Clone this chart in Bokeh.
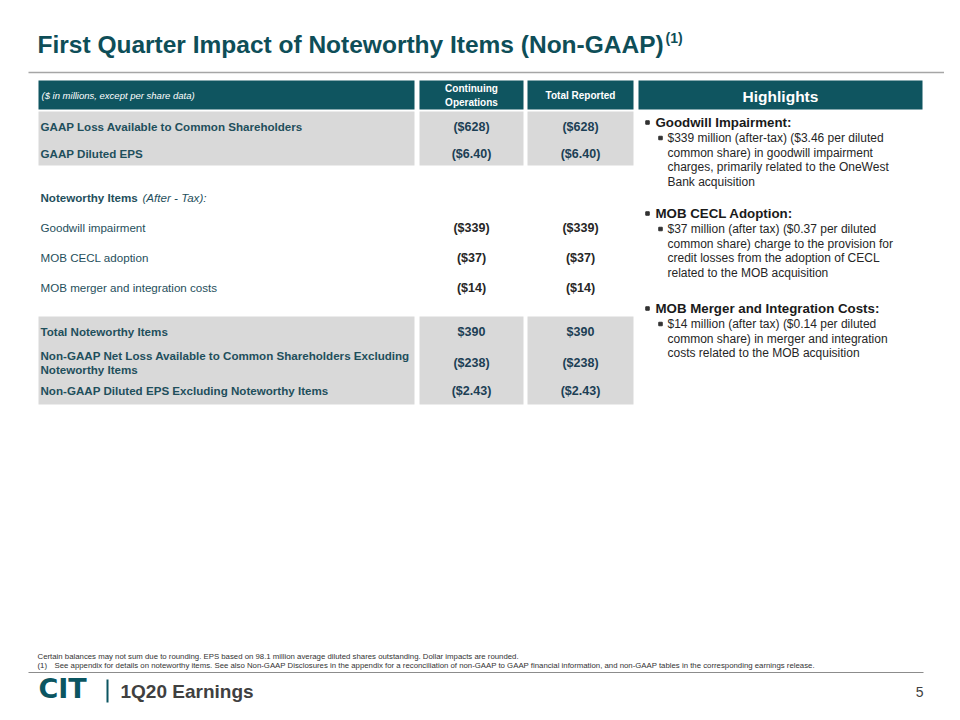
from bokeh.plotting import figure
from bokeh.models import Range1d
from bokeh.core.properties import value
from bokeh.embed import file_html
from bokeh.resources import INLINE

# ---------------- data ----------------
title = "First Quarter Impact of Noteworthy Items (Non-GAAP)"
title_sup = "(1)"
header_note = "($ in millions, except per share data)"
col_headers = [["Continuing", "Operations"], ["Total Reported"]]
highlights_title = "Highlights"

top_labels = ["GAAP Loss Available to Common Shareholders", "GAAP Diluted EPS"]
top_cont = ["($628)", "($6.40)"]
top_total = ["($628)", "($6.40)"]

items_heading = "Noteworthy Items"
items_heading_it = "(After - Tax):"
item_labels = ["Goodwill impairment", "MOB CECL adoption", "MOB merger and integration costs"]
item_cont = ["($339)", "($37)", "($14)"]
item_total = ["($339)", "($37)", "($14)"]

bottom_labels = [["Total Noteworthy Items"],
                 ["Non-GAAP Net Loss Available to Common Shareholders Excluding", "Noteworthy Items"],
                 ["Non-GAAP Diluted EPS Excluding Noteworthy Items"]]
bottom_cont = ["$390", "($238)", "($2.43)"]
bottom_total = ["$390", "($238)", "($2.43)"]

hl_heads = ["Goodwill Impairment:", "MOB CECL Adoption:", "MOB Merger and Integration Costs:"]
hl_lines = [
    ["$339 million (after-tax) ($3.46 per diluted", "common share) in goodwill impairment",
     "charges, primarily related to the OneWest", "Bank acquisition"],
    ["$37 million (after tax) ($0.37 per diluted", "common share) charge to the provision for",
     "credit losses from the adoption of CECL", "related to the MOB acquisition"],
    ["$14 million (after tax) ($0.14 per diluted", "common share) in merger and integration",
     "costs related to the MOB acquisition"],
]

footnotes = ["Certain balances may not sum due to rounding. EPS based on 98.1 million average diluted shares outstanding. Dollar impacts are rounded.",
             "See appendix for details on noteworthy items. See also Non-GAAP Disclosures in the appendix for a reconciliation of non-GAAP to GAAP financial information, and non-GAAP tables in the corresponding earnings release."]
footer_title = "1Q20 Earnings"
page_no = "5"
logo = "CIT"

# ---------------- styles ----------------
TEAL = "#0f5560"
TITLE_C = "#0e4e58"
GRAY_ROW = "#d9d9d9"
LBL_C = "#1f4f5c"
VAL_C = "#1c3f55"
DARK = "#262626"
F = value("Liberation Sans")

p = figure(width=944, height=704, output_backend="svg", toolbar_location=None,
           x_range=Range1d(0, 944), y_range=Range1d(704, 0),
           min_border=0, outline_line_color=None)
p.axis.visible = False
p.grid.visible = False
p.background_fill_color = "white"


def txt(x, y, t, size, color, style="normal", align="left", baseline="middle", font=F):
    p.text(x=[x], y=[y], text=[t], text_font=font, text_font_size=f"{size}px",
           text_color=color, text_font_style=style, text_align=align,
           text_baseline=baseline)


# title
txt(37, 44, title, 24.5, TITLE_C, "bold")
txt(665, 37, title_sup, 14, TITLE_C, "bold")
p.segment(x0=[28], y0=[72], x1=[944], y1=[72], line_color="#a6a6a6", line_width=1.5)

# column geometry
C1 = (38, 414)
C2 = (419, 523)
C3 = (527, 633)
HL = (638, 922)
cx2 = (C2[0] + C2[1]) / 2
cx3 = (C3[0] + C3[1]) / 2

# header row
for (a, b) in (C1, C2, C3, HL):
    p.quad(left=[a], right=[b], top=[80], bottom=[109], fill_color=TEAL, line_color=None)
txt(41, 95, header_note, 9.5, "white", "italic")
for i, ln in enumerate(col_headers[0]):
    txt(cx2, 88 + 14 * i, ln, 10, "white", "bold", "center")
txt(cx3, 95, col_headers[1][0], 10, "white", "bold", "center")
txt((HL[0] + HL[1]) / 2, 96, highlights_title, 15.5, "white", "bold", "center")

# top gray block
for (a, b) in (C1, C2, C3):
    p.quad(left=[a], right=[b], top=[111], bottom=[165], fill_color=GRAY_ROW, line_color=None)
for i, lab in enumerate(top_labels):
    y = 126 + 27 * i
    txt(40, y, lab, 11.6, LBL_C, "bold")
    txt(cx2, y, top_cont[i], 12.5, VAL_C, "bold", "center")
    txt(cx3, y, top_total[i], 12.5, VAL_C, "bold", "center")

# noteworthy items
txt(40, 197, items_heading, 11.6, LBL_C, "bold")
txt(142, 197, items_heading_it, 11.6, LBL_C, "italic")
for i, lab in enumerate(item_labels):
    y = 227 + 30 * i
    txt(40, y, lab, 11.6, LBL_C)
    txt(cx2, y, item_cont[i], 12.5, DARK, "bold", "center")
    txt(cx3, y, item_total[i], 12.5, DARK, "bold", "center")

# bottom gray block
for (a, b) in (C1, C2, C3):
    p.quad(left=[a], right=[b], top=[316], bottom=[404], fill_color=GRAY_ROW, line_color=None)
row_y = [331, 362, 390]
for i, lines in enumerate(bottom_labels):
    y = row_y[i]
    n = len(lines)
    for j, ln in enumerate(lines):
        txt(40, y + (j - (n - 1) / 2) * 14, ln, 11.6, LBL_C, "bold")
    txt(cx2, y, bottom_cont[i], 12.5, VAL_C, "bold", "center")
    txt(cx3, y, bottom_total[i], 12.5, VAL_C, "bold", "center")

# highlights
head_y = [122, 213, 308]
bx, by = [], []
for k, head in enumerate(hl_heads):
    y0 = head_y[k]
    bx.append(647); by.append(y0)
    txt(655, y0, head, 13.3, "#1a1a1a", "bold")
    for j, ln in enumerate(hl_lines[k]):
        y = y0 + 15.5 + 14.7 * j
        if j == 0:
            bx.append(660); by.append(y)
        txt(667, y, ln, 12, DARK)
p.scatter(x=bx, y=by, marker="square", size=3.5, color="#333333")

# footnotes
txt(37, 656, footnotes[0], 7.8, "#333333")
txt(37, 665, "(1)", 7.8, "#333333")
txt(54, 665, footnotes[1], 7.8, "#333333")
p.segment(x0=[28], y0=[672], x1=[923], y1=[672], line_color="#8c8c8c", line_width=1.2)

# footer
txt(38, 688, logo, 27, "#0b5561", "bold", "left", "middle", value("DejaVu Sans"))
p.segment(x0=[107], y0=[679], x1=[107], y1=[702], line_color="#0b5561", line_width=2)
txt(120, 691, footer_title, 19, "#404040", "bold")
txt(923, 691, page_no, 14, "#404040", "normal", "right")

open("out.html", "w").write(file_html(p, INLINE))
